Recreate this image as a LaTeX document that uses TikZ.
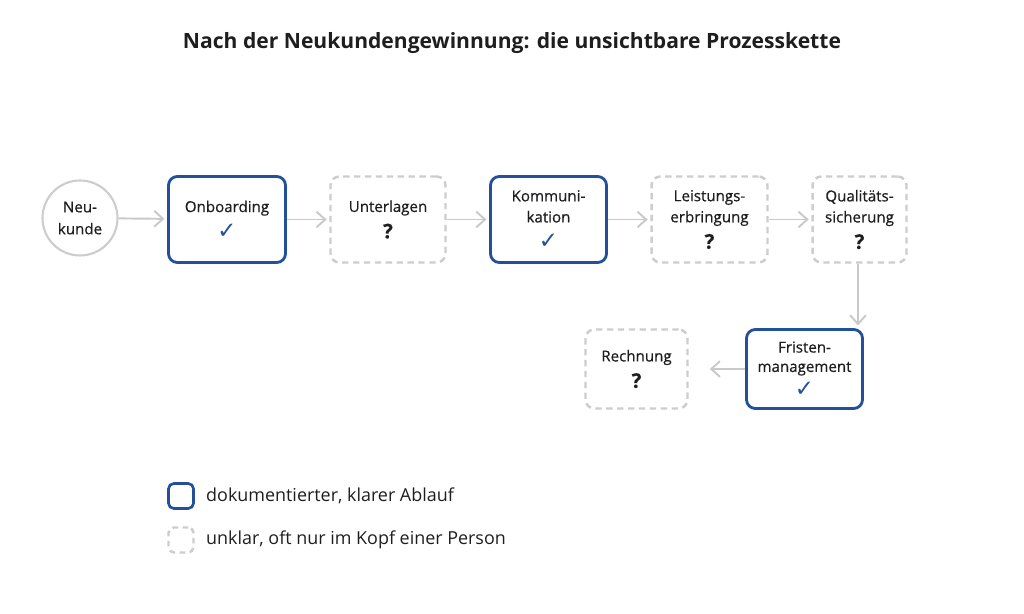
\documentclass[tikz,border=0pt]{standalone}
\usepackage{fontspec}
\setmainfont{Open Sans}
\newfontfamily\symfont{DejaVu Sans}
\newfontfamily\boxfont[FakeBold=0.5]{Open Sans}
\usetikzlibrary{arrows.meta}
\definecolor{docblue}{HTML}{22509A}
\definecolor{unclgray}{HTML}{CDCDCD}
\definecolor{flowgray}{HTML}{C9C9C9}
\definecolor{textdark}{HTML}{1E1E1E}
\newcommand{\okmark}{\\[3pt]{\symfont\color{docblue}\fontsize{13}{12}\selectfont ✓}}
\newcommand{\unkmark}{\\[3pt]{\bfseries\fontsize{11.5}{12}\selectfont ?}}
\begin{document}
\begin{tikzpicture}[
            x=0.02cm, y=-0.02cm,
                every node/.style={text=textdark},
                start/.style={circle, draw=unclgray, line width=1.2pt, minimum size=1.5cm, inner sep=0pt, align=center, font=\boxfont\fontsize{8.6}{12.5}\selectfont},
                known/.style={rectangle, draw=docblue, line width=1.6pt, rounded corners=5pt, fill=white, align=center, minimum height=1.72cm, font=\boxfont\fontsize{8.6}{12}\selectfont},
                unclear/.style={rectangle, draw=unclgray, line width=1.4pt, dash pattern=on 3.6pt off 2.6pt, rounded corners=5pt, fill=white, align=center, minimum height=1.72cm, font=\boxfont\fontsize{8.6}{12}\selectfont},
                flow/.style={draw=flowgray, line width=1.1pt, -{Straight Barb[length=5pt, width=9pt]}, shorten >=1.5pt},
                legtext/.style={anchor=west, font=\fontsize{10.2}{12}\selectfont}
            ]
              \useasboundingbox (0,0) rectangle (1024,614);

              \node[font=\bfseries\fontsize{12}{14}\selectfont] (title) at (512,43) {Nach der Neukundengewinnung: die unsichtbare Prozesskette};

              % top row
              \node[start] (neu) at (80,218) {Neu-\\kunde};
              \node[known, minimum width=2.34cm] (onb) at (227,219.5) {Onboarding\okmark};
              \node[unclear, minimum width=2.3cm] (unt) at (388,219.5) {Unterlagen\unkmark};
              \node[known, minimum width=2.32cm] (kom) at (548.5,219.5) {Kommuni-\\kation\okmark};
              \node[unclear, minimum width=2.32cm] (lei) at (709.5,219.5) {Leistungs-\\erbringung\unkmark};
              \node[unclear, minimum width=1.88cm] (qua) at (859.5,219.5) {Qualitäts-\\sicherung\unkmark};

              % second row
              \node[known, minimum width=2.32cm, minimum height=1.58cm, font=\boxfont\fontsize{8.6}{11}\selectfont] (fri) at (804.5,369) {Fristen-\\management\okmark};
              \node[unclear, minimum width=2.04cm, minimum height=1.58cm] (rec) at (636.5,369) {Rechnung\unkmark};

              \draw[flow] (neu) -- (onb);
              \draw[flow] (onb) -- (unt);
              \draw[flow] (unt) -- (kom);
              \draw[flow] (kom) -- (lei);
              \draw[flow] (lei) -- (qua);
              \coordinate (quadown) at (qua.south -| 858,0);
              \draw[flow] (quadown) -- (quadown |- fri.north);
              \draw[flow, shorten >=12pt] (fri) -- (rec);

              % legend
              \node[known, minimum width=0.5cm, minimum height=0.5cm, rounded corners=3pt, line width=1.5pt] (legknown) at (181,496) {};
              \node[legtext] (legknowntext) at (200,496) {dokumentierter, klarer Ablauf};
              \node[unclear, minimum width=0.5cm, minimum height=0.5cm, rounded corners=3pt, dash pattern=on 3.2pt off 2.6pt] (legunclear) at (181,540) {};
              \node[legtext] (legunceartext) at (200,540) {unklar, oft nur im Kopf einer Person};
            \end{tikzpicture}
\end{document}
